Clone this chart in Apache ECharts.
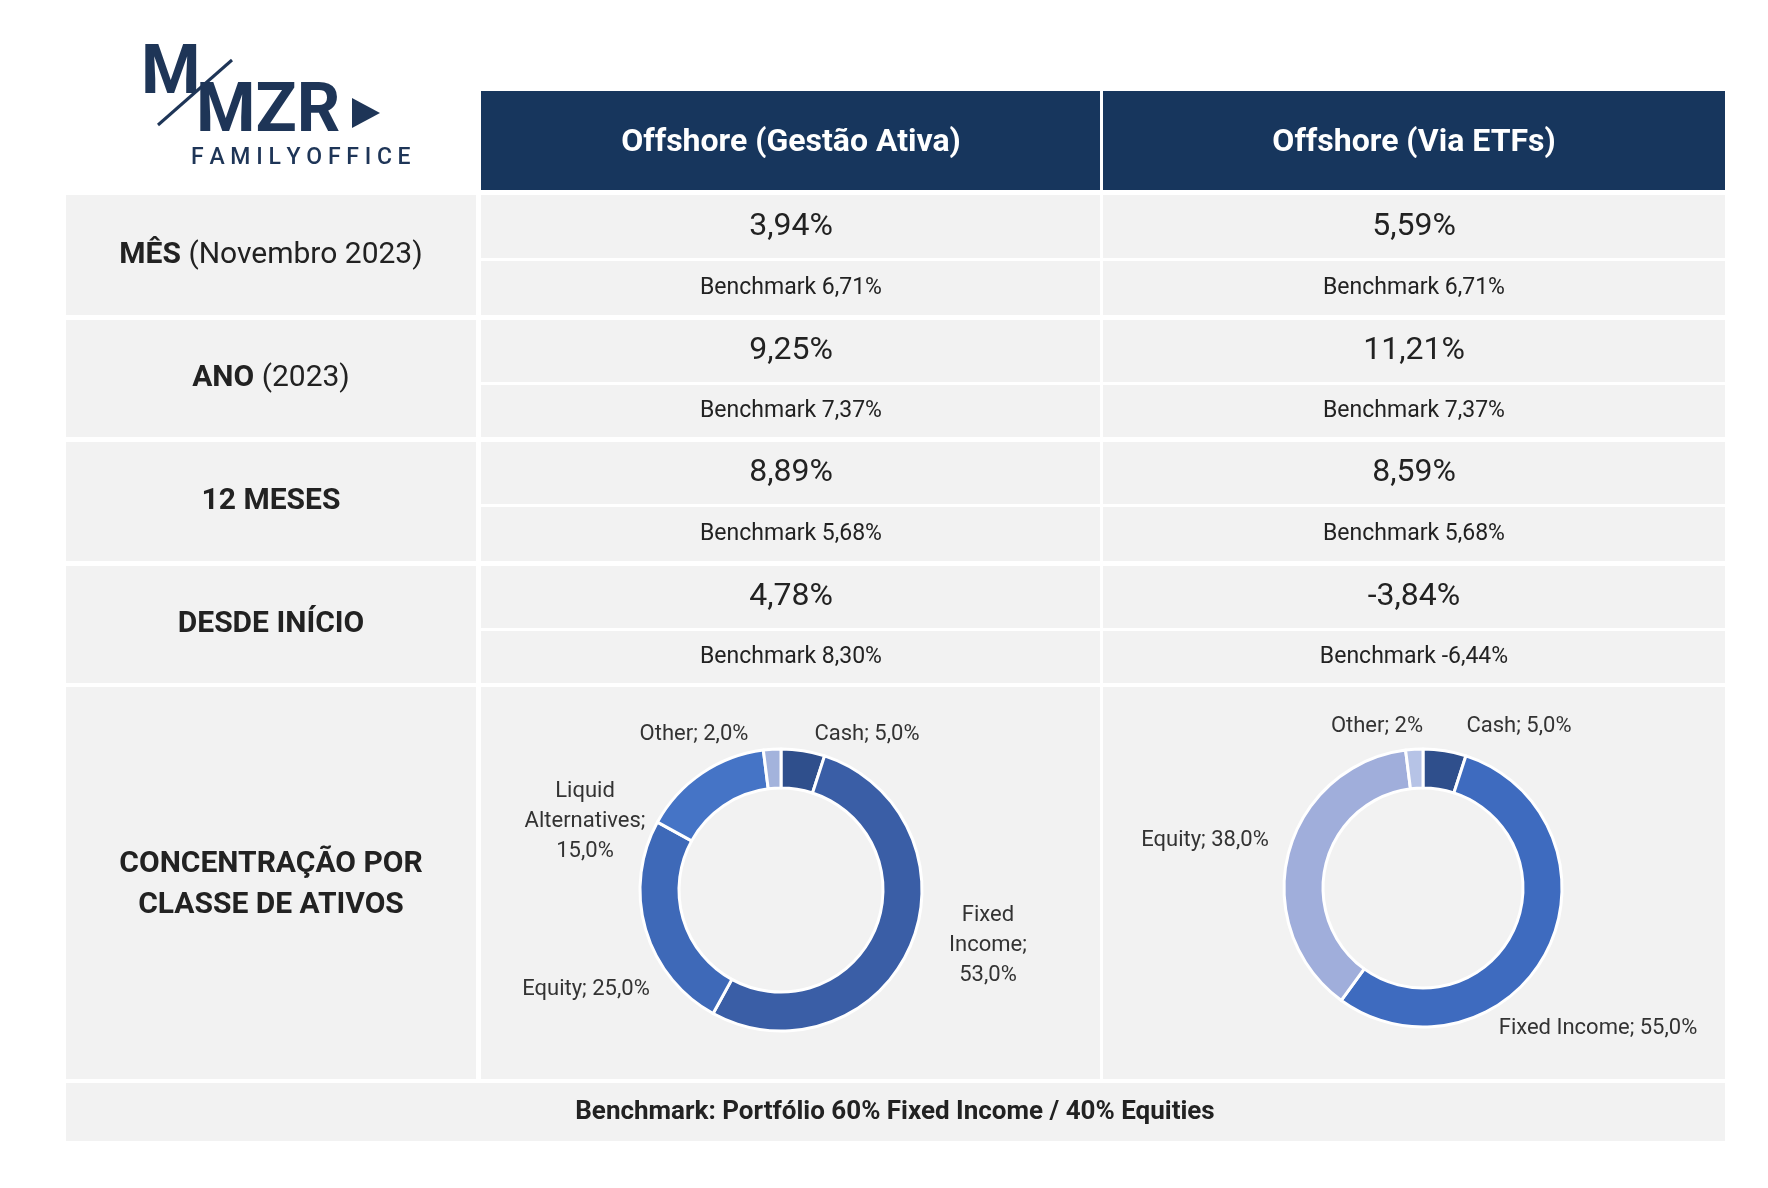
<!DOCTYPE html>
<html><head><meta charset="utf-8">
<script src="https://cdn.jsdelivr.net/npm/echarts@6/dist/echarts.min.js"></script>
<style>html,body{margin:0;padding:0;background:#fff}#c{width:1768px;height:1188px}</style>
</head><body><div id="c"></div>
<script>
const columns = ['Offshore (Gestão Ativa)', 'Offshore (Via ETFs)'];
const rowLabelsBold = ['MÊS', 'ANO', '12 MESES', 'DESDE INÍCIO'];
const rowLabelsNormal = [' (Novembro 2023)', ' (2023)', '', ''];
const activeReturns = ['3,94%', '9,25%', '8,89%', '4,78%'];
const etfReturns = ['5,59%', '11,21%', '8,59%', '-3,84%'];
const benchmarks = ['6,71%', '7,37%', '5,68%', '8,30%'];
const etfBenchmarks = ['6,71%', '7,37%', '5,68%', '-6,44%'];
const activeAlloc = [
  {name:'Cash', value:5.0}, {name:'Fixed Income', value:53.0}, {name:'Equity', value:25.0},
  {name:'Liquid Alternatives', value:15.0}, {name:'Other', value:2.0}];
const etfAlloc = [
  {name:'Cash', value:5.0}, {name:'Fixed Income', value:55.0}, {name:'Equity', value:38.0}, {name:'Other', value:2.0}];
const activeLabels = ['Cash; 5,0%', 'Fixed\nIncome;\n53,0%', 'Equity; 25,0%', 'Liquid\nAlternatives;\n15,0%', 'Other; 2,0%'];
const etfLabels = ['Cash; 5,0%', 'Fixed Income; 55,0%', 'Equity; 38,0%', 'Other; 2%'];
const footer = 'Benchmark: Portfólio 60% Fixed Income / 40% Equities';
const activeColors = ['#2f4f8c','#3a5ea6','#3e69b8','#4574c6','#a3b3dc'];
const etfColors = ['#2f4f8c','#3e6bbf','#a0aedb','#b6c3e6'];

const F = 'Roboto, "Noto Sans", sans-serif';
const NAVY = '#17365d', BG = '#f2f2f2', TXT = '#222';
const g = [];
function rect(x,y,w,h,fill){g.push({type:'rect',shape:{x,y,width:w,height:h},style:{fill},silent:true});}
function text(x,y,t,size,weight,color,align){g.push({type:'text',x,y,style:{text:t,font:`${weight} ${size}px ${F}`,fill:color||TXT,align:align||'center',verticalAlign:'middle',lineHeight:30},silent:true});}

rect(481,91,619,99,NAVY); rect(1103,91,622,99,NAVY);
text(791,143,columns[0],32,'bold','#fff'); text(1414,143,columns[1],32,'bold','#fff');

const rows=[[195,261,315],[320,385,437],[442,507,561],[566,631,683]];
const col1=[481,619], col2=[1103,622];
rows.forEach((r,i)=>{
  rect(66,r[0],410,r[2]-r[0],BG);
  rect(col1[0],r[0],col1[1],r[1]-r[0]-3,BG); rect(col1[0],r[1],col1[1],r[2]-r[1],BG);
  rect(col2[0],r[0],col2[1],r[1]-r[0]-3,BG); rect(col2[0],r[1],col2[1],r[2]-r[1],BG);
  const cy=(r[0]+r[2])/2;
  g.push({type:'text',x:271,y:cy,style:{rich:{b:{font:`bold 30px ${F}`,fill:TXT},n:{font:`normal 30px ${F}`,fill:TXT}},text:`{b|${rowLabelsBold[i]}}{n|${rowLabelsNormal[i]}}`,align:'center',verticalAlign:'middle'},silent:true});
  const vy=(r[0]+r[1]-3)/2, by=(r[1]+r[2])/2;
  text(791,vy,activeReturns[i],32,'normal'); text(1414,vy,etfReturns[i],32,'normal');
  text(791,by,'Benchmark '+benchmarks[i],23,'normal'); text(1414,by,'Benchmark '+etfBenchmarks[i],23,'normal');
});
rect(66,687,410,392,BG); rect(481,687,619,392,BG); rect(1103,687,622,392,BG);
text(271,864,'CONCENTRAÇÃO POR',30,'bold'); text(271,905,'CLASSE DE ATIVOS',30,'bold');
rect(66,1083,1659,58,BG);
text(895,1112,footer,26,'bold');

const aPos=[[867,734],[988,945],[586,989],[585,821],[694,734]];
activeLabels.forEach((t,i)=>text(aPos[i][0],aPos[i][1],t,22,'normal','#333'));
const ePos=[[1519,726],[1598,1028],[1205,840],[1377,726]];
etfLabels.forEach((t,i)=>text(ePos[i][0],ePos[i][1],t,22,'normal','#333'));

// logo
g.push({type:'text',x:141,y:42,style:{text:'M',font:`bold 68px ${F}`,fill:'#1e3557'},silent:true});
g.push({type:'text',x:196,y:80,style:{text:'MZR',font:`bold 68px ${F}`,fill:'#1e3557'},silent:true});
g.push({type:'line',shape:{x1:158,y1:125,x2:232,y2:60},style:{stroke:'#1e3557',lineWidth:3},silent:true});
g.push({type:'polygon',shape:{points:[[352,98],[380,113],[352,128]]},style:{fill:'#1e3557'},silent:true});
g.push({type:'text',x:191,y:147,style:{text:'F A M I L Y O F F I C E',font:`500 23px ${F}`,fill:'#1e3557'},silent:true});

const mk=(arr,cols)=>arr.map((d,i)=>({name:d.name,value:d.value,itemStyle:{color:cols[i]}}));
const chart = echarts.init(document.getElementById('c'));
chart.setOption({
  animation:false,
  graphic:g,
  series:[
    {type:'pie',center:[781,890],radius:[102,141],startAngle:90,clockwise:true,label:{show:false},labelLine:{show:false},
     itemStyle:{borderColor:'#fff',borderWidth:3},data:mk(activeAlloc,activeColors)},
    {type:'pie',center:[1423,888],radius:[100,139],startAngle:90,clockwise:true,label:{show:false},labelLine:{show:false},
     itemStyle:{borderColor:'#fff',borderWidth:3},data:mk(etfAlloc,etfColors)}
  ]
});
</script></body></html>
